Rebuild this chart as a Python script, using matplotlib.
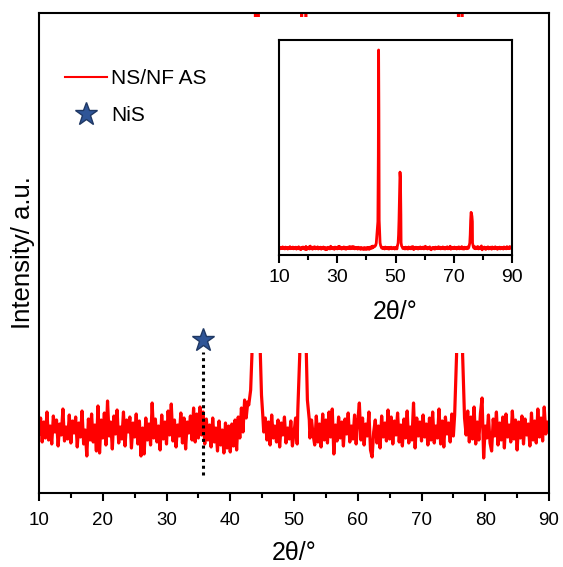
import matplotlib
matplotlib.use("Agg")
import matplotlib.pyplot as plt
from matplotlib.lines import Line2D
from matplotlib.patches import Rectangle
import numpy as np

plt.rcParams['font.family'] = ['Liberation Sans', 'DejaVu Sans']

# background counts, 10-90 deg every 0.25 deg
bg_start, bg_step = 10.0, 0.25
bg_counts = [
    96, 112, 88, 108, 92, 118, 90, 104, 86, 114, 98, 110, 84, 106, 95, 121, 89, 103, 91, 115,
    87, 109, 97, 113, 83, 107, 93, 119, 86, 100, 74, 111, 90, 116, 88, 105, 79, 124, 77, 110,
    92, 117, 85, 129, 94, 108, 81, 114, 96, 120, 87, 103, 91, 118, 84, 110, 98, 113, 82, 107,
    93, 116, 86, 109, 74, 102, 76, 112, 90, 106, 85, 127, 92, 111, 88, 104, 80, 115, 91, 108,
    86, 119, 95, 126, 89, 110, 83, 105, 94, 117, 87, 112, 81, 108, 97, 114, 90, 122, 88, 116,
    92, 123, 95, 118, 86, 111, 90, 105, 83, 112, 88, 102, 79, 109, 85, 100, 77, 107, 82, 104,
    78, 106, 84, 110, 80, 113, 92, 122, 98, 130, 112, 128, 120, 125, 140, 150, 160, 170, 150, 130,
    118, 98, 112, 90, 108, 85, 115, 92, 104, 88, 110, 83, 107, 95, 113, 87, 102, 91, 109, 84,
    97, 112, 86, 105, 90, 110, 100, 108, 96, 104, 92, 110, 95, 85, 114, 88, 106, 83, 116, 90,
    110, 87, 118, 93, 121, 76, 105, 89, 113, 92, 108, 84, 111, 96, 117, 88, 104, 91, 115, 86,
    109, 127, 90, 112, 85, 106, 94, 118, 80, 73, 98, 110, 87, 104, 82, 114, 93, 107, 89, 120,
    91, 113, 86, 109, 95, 117, 88, 105, 84, 111, 92, 119, 87, 103, 90, 127, 82, 112, 94, 108,
    89, 115, 93, 106, 85, 112, 90, 118, 87, 104, 92, 121, 86, 109, 83, 113, 96, 107, 88, 116,
    94, 110, 120, 200, 500, 300, 140, 112, 95, 119, 88, 113, 91, 123, 86, 108, 90, 117, 132, 72,
    104, 92, 115, 87, 79, 111, 94, 118, 85, 107, 90, 113, 82, 116, 93, 105, 88, 119, 91, 110,
    80, 108, 92, 114, 86, 111, 95, 106, 84, 117, 90, 109, 87, 121, 93, 112, 89, 123, 96, 108,
    100,
]

# Ni reflections (111), (200), (220)
peak1_theta = [42.9, 43.2, 43.4, 43.55, 43.75, 43.95, 44.1, 44.2, 44.3, 44.4, 44.55, 44.7, 44.9, 45.1]
peak1_counts = [125, 140, 175, 260, 380, 500, 1500, 3100, 2200, 520, 330, 180, 135, 115]
peak2_theta = [50.6, 50.9, 51.05, 51.2, 51.4, 51.55, 51.7, 51.85, 51.92, 52.1, 52.4]
peak2_counts = [120, 175, 300, 520, 900, 1250, 1150, 600, 180, 130, 110]
peak3_theta = [75.2, 75.5, 75.65, 75.8, 75.95, 76.1, 76.25, 76.4, 76.45, 76.7]
peak3_counts = [115, 175, 300, 520, 640, 620, 580, 500, 175, 125]

nis_theta = 35.7
nis_mark = 190
nis_line = [55, 178]

bg_theta = bg_start + bg_step * np.arange(len(bg_counts))
bg_counts = np.array(bg_counts, dtype=float)
keep = np.ones(len(bg_theta), bool)
for pt in (peak1_theta, peak2_theta, peak3_theta):
    keep &= ~((bg_theta >= pt[0]) & (bg_theta <= pt[-1]))
theta = np.concatenate([bg_theta[keep], peak1_theta, peak2_theta, peak3_theta])
counts = np.concatenate([bg_counts[keep], peak1_counts, peak2_counts, peak3_counts])
order = np.argsort(theta)
theta, counts = theta[order], counts[order]

fig = plt.figure(figsize=(5.63, 5.67), dpi=100)
ax = fig.add_axes([39/563, 74/567, 510/563, 480/567])
ax.plot(theta, counts, color='#ff0000', lw=2.3, zorder=2)
ax.set_xlim(10, 90)
ax.set_ylim(37, 517)
# white patch hides the tall peaks, as in the original figure
ax.add_patch(Rectangle((0, 0.2917), 1, 0.7, transform=ax.transAxes,
                       facecolor='white', edgecolor='none', zorder=3))
ax.plot([nis_theta, nis_theta], nis_line, color='black', lw=2.2,
        dashes=(1, 1.2), zorder=4)
ax.plot([nis_theta], [nis_mark], marker='*', ms=17, mfc='#2f5597',
        mec='#1f3864', mew=1, ls='none', zorder=5, clip_on=False)

ax.set_xticks(range(10, 91, 10))
ax.set_xticks(range(15, 90, 10), minor=True)
ax.set_yticks([])
ax.tick_params(axis='x', which='major', direction='out', length=6, width=1.5,
               labelsize=13.5, pad=8)
ax.tick_params(axis='x', which='minor', direction='out', length=3.5, width=1.5)
for s in ax.spines.values():
    s.set_linewidth(1.5)
    s.set_zorder(6)
ax.set_xlabel('2θ/°', fontsize=18, labelpad=8)
ax.set_ylabel('Intensity/ a.u.', fontsize=18.5, labelpad=3)

handles = [Line2D([], [], color='#ff0000', lw=1.5),
           Line2D([], [], marker='*', ms=17, mfc='#2f5597', mec='#1f3864',
                  mew=1, ls='none')]
leg = ax.legend(handles, ['NS/NF AS', 'NiS'], loc='upper left',
                bbox_to_anchor=(0.051, 0.883), frameon=False, fontsize=15,
                borderpad=0, borderaxespad=0, handlelength=2.0,
                handletextpad=0.2, labelspacing=0.85)
leg.set_zorder(7)

# inset: full pattern
ins = fig.add_axes([279/563, (567-255)/567, 233/563, 215/567])
ins.set_zorder(8)
ins.plot(theta, counts, color='#ff0000', lw=2)
ins.set_xlim(10, 90)
ins.set_ylim(-6, 3251)
ins.set_xticks(range(10, 91, 20))
ins.set_xticks(range(20, 90, 20), minor=True)
ins.set_yticks([])
ins.tick_params(axis='x', which='major', direction='out', length=6, width=1.5,
                labelsize=14, pad=4)
ins.tick_params(axis='x', which='minor', direction='out', length=3.5, width=1.5)
for s in ins.spines.values():
    s.set_linewidth(1.5)
ins.set_xlabel('2θ/°', fontsize=18, labelpad=10)

fig.savefig('out.png', dpi=100)
